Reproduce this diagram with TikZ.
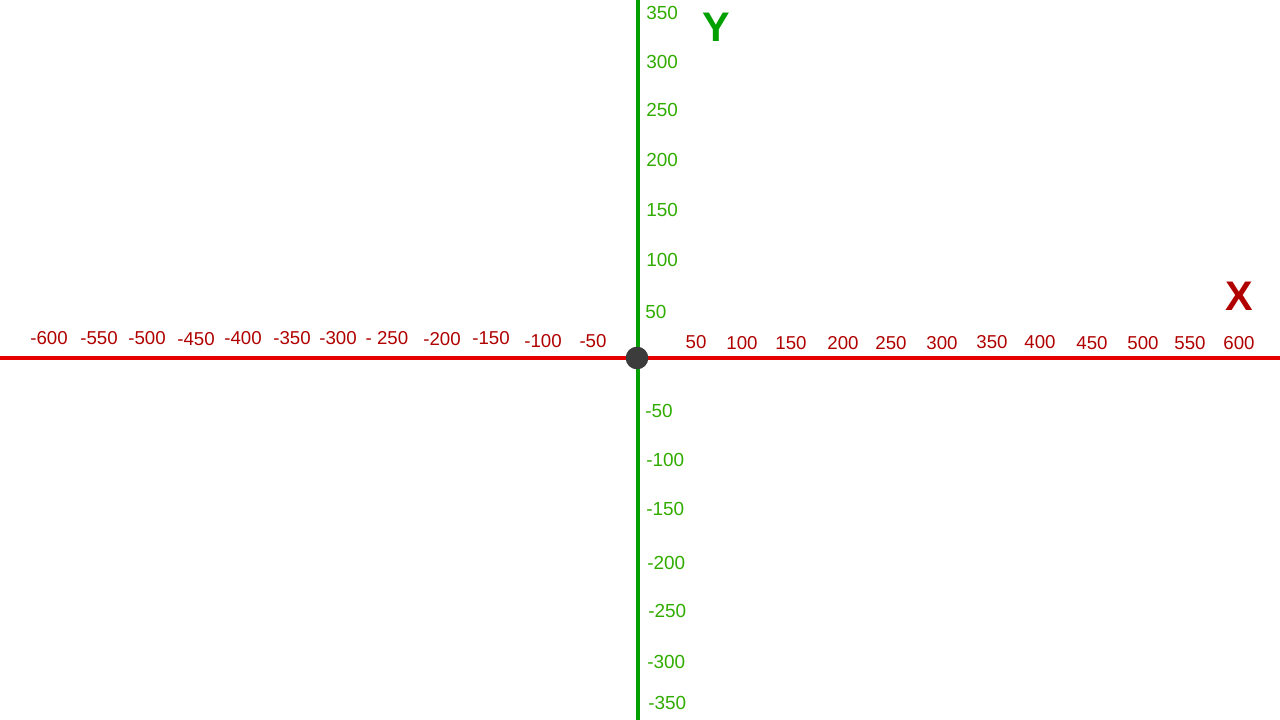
\documentclass[tikz,border=0pt]{standalone}
\usepackage{fontspec}
\setmainfont{Liberation Sans}
\usepackage{tikz}
\usetikzlibrary{calc}
\usetikzlibrary{positioning}
\definecolor{xaxiscol}{HTML}{E60000}
\definecolor{xlabcol}{HTML}{B00000}
\definecolor{yaxiscol}{HTML}{00A000}
\definecolor{ylabcol}{HTML}{30AC00}
\definecolor{dotcol}{HTML}{3C3C3C}
\tikzset{
  xtick/.style = {font=\fontsize{14}{16}\selectfont, text=xlabcol, inner sep=0pt},
  ytick/.style = {font=\fontsize{14.2}{16}\selectfont, text=ylabcol, inner sep=0pt, anchor=west},
  axisname/.style = {font=\fontsize{31}{33}\selectfont\bfseries, inner sep=0pt}
}

\begin{document}
\begin{tikzpicture}[x=0.75pt, y=-0.75pt]
\useasboundingbox (0,0) rectangle (1280,720);
% axes
\coordinate (xl) at (0,358);
\coordinate (xr) at (1280,358);
\coordinate (yt) at (638,0);
\coordinate (yb) at (638,720);
\draw [xaxiscol, line width=2.4pt] (xl) -- (xr);
\draw [yaxiscol, line width=2.8pt] (yt) -- (yb);
\node [circle, fill=dotcol, minimum size=17pt, inner sep=0pt] (O) at (637,358) {};
% x labels
\foreach \v/\px/\py in {-600/49/338, -550/99/338, -500/147/338, -450/196/339, -400/243/338,
  -350/292/338, -300/338/338, - 250/387/338, -200/442/339, -150/491/338, -100/543/341, -50/593/341,
  50/696/342, 100/742/343, 150/791/343, 200/843/343, 250/891/343, 300/942/343, 350/992/342,
  400/1040/342, 450/1092/343, 500/1143/343, 550/1190/343, 600/1239/343}
  \node [xtick] (x\px) at (\px,\py) {\v};
% y labels
\foreach \v/\px/\py in {350/646/13, 300/646/62, 250/646/110, 200/646/160, 150/646/210, 100/646/260,
  50/645/312, -50/645/411, -100/646/460, -150/646/509, -200/647/563, -250/648/611, -300/647/662, -350/648/703}
  \node [ytick] (y\py) at (\px,\py) {\v};
\node [axisname, text=xlabcol] (X) at (1239,296) {X};
\node [axisname, text=yaxiscol] (Y) at (716,27) {Y};
\end{tikzpicture}
\end{document}
